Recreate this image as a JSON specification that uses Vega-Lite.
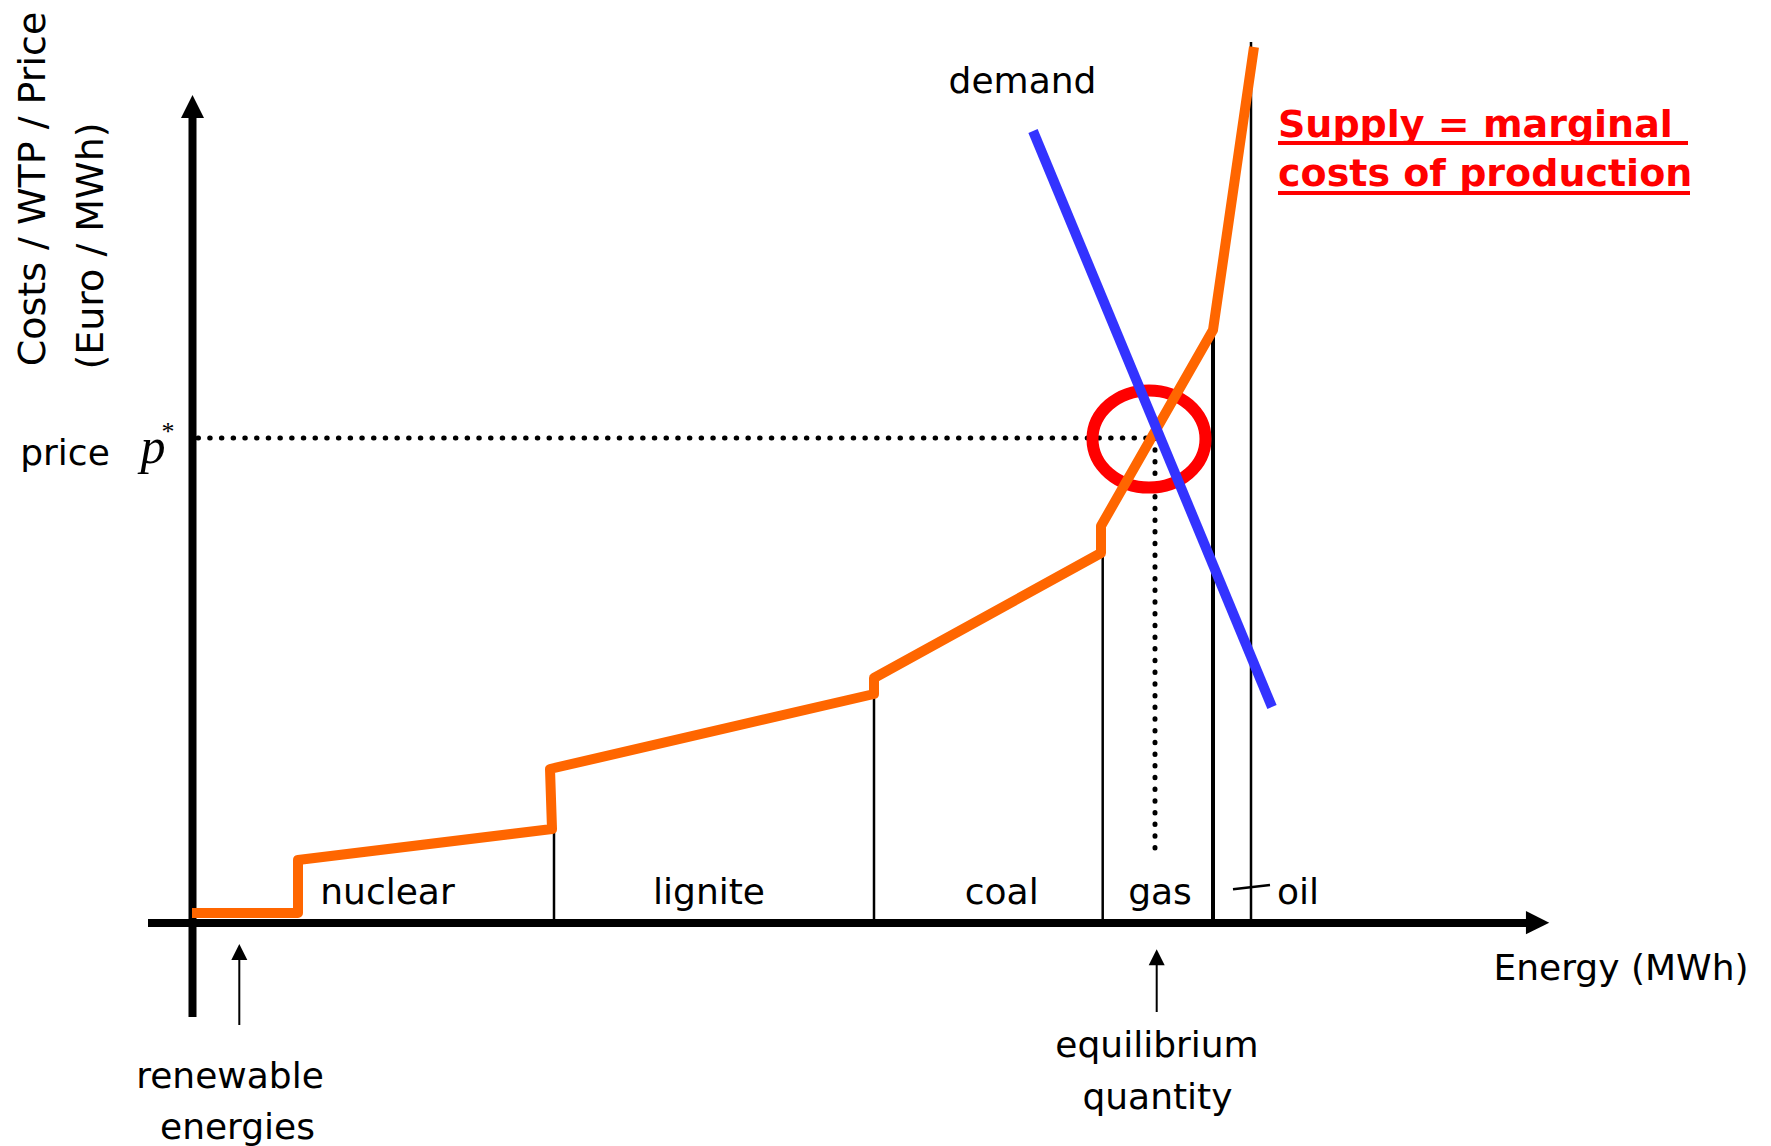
{
  "$schema": "https://vega.github.io/schema/vega-lite/v6.json",
  "width": 1771,
  "height": 1146,
  "padding": 0,
  "autosize": {"type": "fit", "contains": "padding"},
  "background": "white",
  "config": {"view": {"stroke": null}},
  "datasets": {
    "supply": [
      {"i": 0, "x": 0, "y": 1.1},
      {"i": 1, "x": 10.6, "y": 1.1},
      {"i": 2, "x": 10.6, "y": 6.4},
      {"i": 3, "x": 36.0, "y": 9.5},
      {"i": 4, "x": 35.8, "y": 15.5},
      {"i": 5, "x": 68.2, "y": 23.0},
      {"i": 6, "x": 68.2, "y": 24.6},
      {"i": 7, "x": 90.9, "y": 37.1},
      {"i": 8, "x": 90.9, "y": 39.8},
      {"i": 9, "x": 102.1, "y": 59.4},
      {"i": 10, "x": 106.2, "y": 87.7}
    ],
    "demand": [
      {"i": 0, "x": 84.1, "y": 79.3},
      {"i": 1, "x": 108.0, "y": 21.7}
    ],
    "dotted": [
      {"x": 0.6, "y": 48.6, "x2": 96.3, "y2": 48.6},
      {"x": 96.3, "y": 48.6, "x2": 96.3, "y2": 7.3}
    ],
    "dividers": [
      {"x": 36.2, "y": 9.5, "y2": 0},
      {"x": 68.2, "y": 23.0, "y2": 0},
      {"x": 91.07, "y": 37.1, "y2": 0},
      {"x": 105.9, "y": 88.2, "y2": 0}
    ],
    "divider_thick": [
      {"x": 102.1, "y": 58.8, "y2": 0}
    ],
    "oiltick": [
      {"x": 104.1, "y": 3.47, "x2": 107.8, "y2": 3.9}
    ],
    "axes": [
      {"x": 0.05, "y": -9.3, "x2": 0.05, "y2": 80.6},
      {"x": -4.4, "y": 0.1, "x2": 133.4, "y2": 0.1}
    ],
    "shafts": [
      {"x": 4.73, "y": -10.1, "x2": 4.73, "y2": -3.6},
      {"x": 96.47, "y": -8.8, "x2": 96.47, "y2": -4.1}
    ],
    "bighead_up": [{"x": 0.05, "y": 81.75}],
    "bighead_right": [{"x": 134.56, "y": 0.13}],
    "smallheads": [
      {"x": 4.73, "y": -2.8},
      {"x": 96.47, "y": -3.33}
    ],
    "circle": [{"x": 95.7, "y": 48.5}],
    "labels": [
      {"x": 19.55, "y": 2.0, "t": "nuclear"},
      {"x": 51.7, "y": 2.0, "t": "lignite"},
      {"x": 80.97, "y": 2.0, "t": "coal"},
      {"x": 96.8, "y": 2.0, "t": "gas"},
      {"x": 110.6, "y": 2.0, "t": "oil"},
      {"x": 83.05, "y": 83.07, "t": "demand"},
      {"x": 142.9, "y": -5.6, "t": "Energy (MWh)"},
      {"x": 3.8, "y": -16.4, "t": "renewable"},
      {"x": 4.55, "y": -21.5, "t": "energies"},
      {"x": 96.5, "y": -13.3, "t": "equilibrium"},
      {"x": 96.55, "y": -18.5, "t": "quantity"},
      {"x": -12.7, "y": 45.9, "t": "price"}
    ],
    "ytitle": [
      {"x": -14.7, "y": 73.5, "t": "Costs / WTP / Price"},
      {"x": -8.9, "y": 67.8, "t": "(Euro / MWh)"}
    ],
    "redtext": [
      {"x": 108.6, "y": 78.7, "t": "Supply = marginal"},
      {"x": 108.6, "y": 73.8, "t": "costs of production"}
    ],
    "underline": [
      {"x": 108.6, "x2": 149.6, "y": 78.1},
      {"x": 108.6, "x2": 149.8, "y": 73.1}
    ],
    "pstar_p": [{"x": -3.9, "y": 46.1, "t": "p"}],
    "pstar_s": [{"x": -2.4, "y": 48.4, "t": "*"}]
  },
  "encoding": {
    "x": {"field": "x", "type": "quantitative", "scale": {"domain": [-19.2, 157.9], "nice": false, "zero": false}, "axis": null},
    "y": {"field": "y", "type": "quantitative", "scale": {"domain": [-22.2, 92.4], "nice": false, "zero": false}, "axis": null}
  },
  "layer": [
    {
      "data": {"name": "dotted"},
      "mark": {"type": "rule", "color": "black", "strokeWidth": 5, "strokeDash": [0.5, 11.2], "strokeCap": "round"},
      "encoding": {"x2": {"field": "x2"}, "y2": {"field": "y2"}}
    },
    {
      "data": {"name": "dividers"},
      "mark": {"type": "rule", "color": "black", "strokeWidth": 2.5},
      "encoding": {"y2": {"field": "y2"}}
    },
    {
      "data": {"name": "divider_thick"},
      "mark": {"type": "rule", "color": "black", "strokeWidth": 4},
      "encoding": {"y2": {"field": "y2"}}
    },
    {
      "data": {"name": "oiltick"},
      "mark": {"type": "rule", "color": "black", "strokeWidth": 2.5},
      "encoding": {"x2": {"field": "x2"}, "y2": {"field": "y2"}}
    },
    {
      "data": {"name": "axes"},
      "mark": {"type": "rule", "color": "black", "strokeWidth": 8},
      "encoding": {"x2": {"field": "x2"}, "y2": {"field": "y2"}}
    },
    {
      "data": {"name": "shafts"},
      "mark": {"type": "rule", "color": "black", "strokeWidth": 2},
      "encoding": {"x2": {"field": "x2"}, "y2": {"field": "y2"}}
    },
    {
      "data": {"name": "bighead_up"},
      "mark": {"type": "point", "shape": "M0,-1L1,1L-1,1Z", "size": 529, "filled": true, "color": "black", "opacity": 1}
    },
    {
      "data": {"name": "bighead_right"},
      "mark": {"type": "point", "shape": "M1,0L-1,-1L-1,1Z", "size": 543, "filled": true, "color": "black", "opacity": 1}
    },
    {
      "data": {"name": "smallheads"},
      "mark": {"type": "point", "shape": "M0,-1L1,1L-1,1Z", "size": 256, "filled": true, "color": "black", "opacity": 1}
    },
    {
      "data": {"name": "circle"},
      "mark": {"type": "point", "shape": "M-1,0A1,0.86,0,1,0,1,0A1,0.86,0,1,0,-1,0Z", "size": 12769, "filled": false, "stroke": "#FF0000", "strokeWidth": 12, "opacity": 1}
    },
    {
      "data": {"name": "supply"},
      "mark": {"type": "line", "color": "#FF6600", "strokeWidth": 10, "strokeJoin": "round", "strokeCap": "butt"},
      "encoding": {"order": {"field": "i", "type": "quantitative"}}
    },
    {
      "data": {"name": "demand"},
      "mark": {"type": "line", "color": "#3333FF", "strokeWidth": 10, "strokeCap": "butt"},
      "encoding": {"order": {"field": "i", "type": "quantitative"}}
    },
    {
      "data": {"name": "labels"},
      "mark": {"type": "text", "font": "DejaVu Sans", "fontSize": 36, "align": "center", "baseline": "alphabetic", "color": "black"},
      "encoding": {"text": {"field": "t"}}
    },
    {
      "data": {"name": "ytitle"},
      "mark": {"type": "text", "font": "DejaVu Sans", "fontSize": 38, "align": "center", "baseline": "alphabetic", "angle": 270, "color": "black"},
      "encoding": {"text": {"field": "t"}}
    },
    {
      "data": {"name": "redtext"},
      "mark": {"type": "text", "font": "DejaVu Sans", "fontWeight": "bold", "fontSize": 38, "align": "left", "baseline": "alphabetic", "color": "#FF0000"},
      "encoding": {"text": {"field": "t"}}
    },
    {
      "data": {"name": "underline"},
      "mark": {"type": "rule", "color": "#FF0000", "strokeWidth": 4},
      "encoding": {"x2": {"field": "x2"}}
    },
    {
      "data": {"name": "pstar_p"},
      "mark": {"type": "text", "font": "Liberation Serif", "fontStyle": "italic", "fontSize": 50, "align": "center", "baseline": "alphabetic", "color": "black"},
      "encoding": {"text": {"field": "t"}}
    },
    {
      "data": {"name": "pstar_s"},
      "mark": {"type": "text", "font": "Liberation Serif", "fontSize": 26, "align": "center", "baseline": "alphabetic", "color": "black"},
      "encoding": {"text": {"field": "t"}}
    }
  ]
}
